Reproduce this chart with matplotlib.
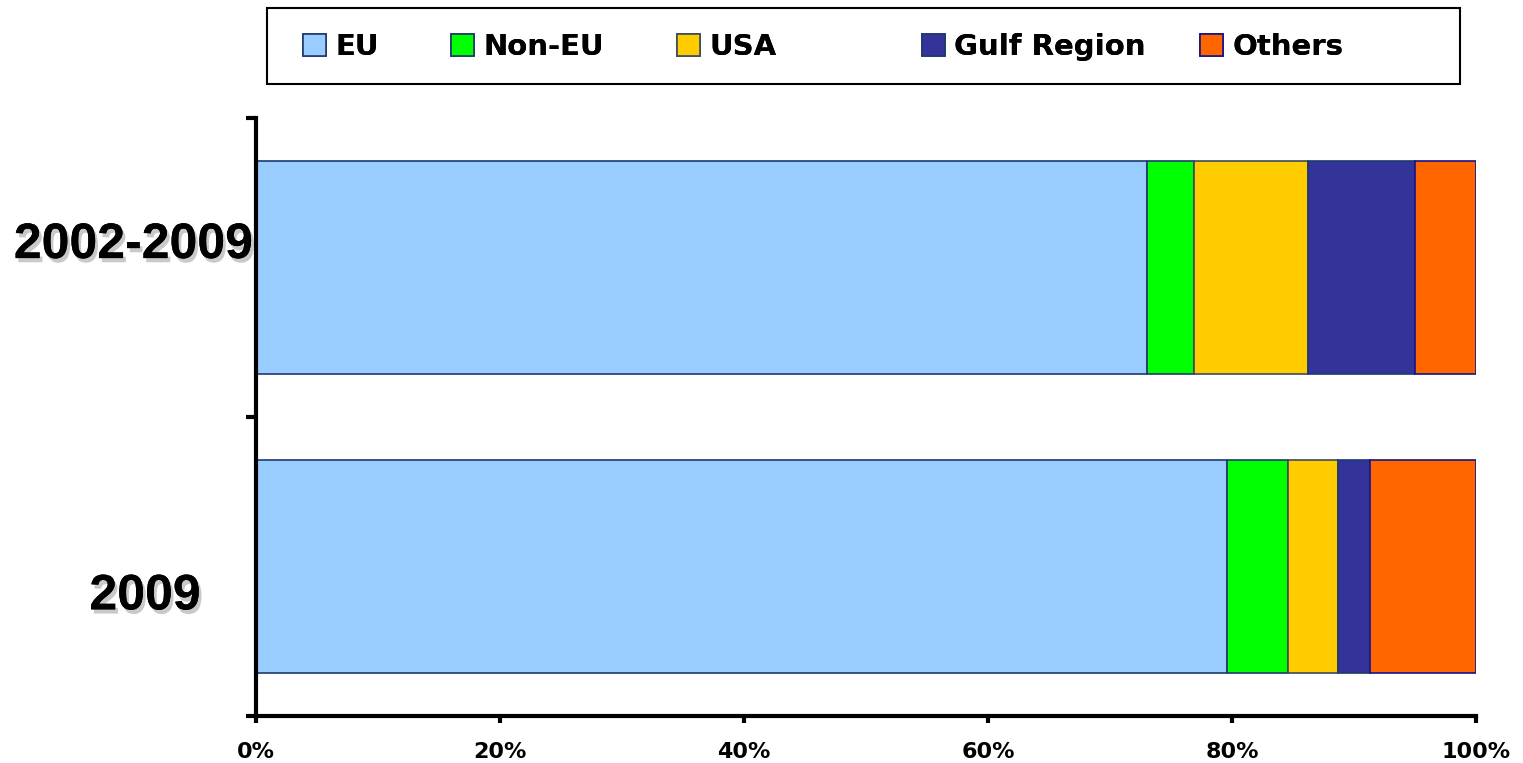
import matplotlib.pyplot as plt
import matplotlib.patheffects as pe
from matplotlib.patches import Rectangle
from matplotlib.ticker import FuncFormatter, FixedLocator

# share of exports by destination, percent
categories = ["2009", "2002-2009"]
regions = ["EU", "Non-EU", "USA", "Gulf Region", "Others"]
eu = [79.6, 73.0]
non_eu = [5.0, 3.9]
usa = [4.1, 9.3]
gulf = [2.6, 8.8]
others = [8.7, 5.0]

colors = ["#99CCFF", "#00FF00", "#FFCC00", "#333399", "#FF6600"]
edges = ["#1F3A6E", "#1F3A6E", "#3A4A5E", "#1F3A6E", "#14148C"]

W, H = 1523, 763
fig = plt.figure(figsize=(W / 100, H / 100), dpi=100)
ax = fig.add_axes([256 / W, 1 - 716 / H, 1220 / W, 598 / H])

ypos = list(range(len(categories)))
left = [0.0] * len(categories)
bars = []
for name, vals, c, ec in zip(regions, [eu, non_eu, usa, gulf, others], colors, edges):
    b = ax.barh(ypos, vals, left=left, height=0.715, color=c, edgecolor=ec,
                linewidth=1.2, label=name)
    bars.append(b)
    left = [a + b for a, b in zip(left, vals)]

ax.set_xlim(0, 100)
ax.set_ylim(-0.5, len(categories) - 0.5)

for side in ("top", "right"):
    ax.spines[side].set_visible(False)
for side in ("left", "bottom"):
    ax.spines[side].set_linewidth(3)

ax.xaxis.set_major_locator(FixedLocator([0, 20, 40, 60, 80, 100]))
ax.xaxis.set_major_formatter(FuncFormatter(lambda v, p: f"{v:.0f}%"))
ax.tick_params(axis="x", direction="out", length=5, width=3, pad=14)
for lab in ax.get_xticklabels():
    lab.set_fontfamily("DejaVu Sans")
    lab.set_fontweight("bold")
    lab.set_fontsize(16)

# boundary ticks between categories, labels drawn separately
ax.yaxis.set_major_locator(FixedLocator([-0.5, 0.5, 1.5]))
ax.set_yticklabels([])
ax.tick_params(axis="y", direction="out", length=7, width=3)

shadow = [pe.withSimplePatchShadow(offset=(2, -3), shadow_rgbFace="#888888", alpha=0.45),
          pe.Normal()]
label_x = [-0.091, -0.1005]
label_dy = [-0.100, 0.075]
for y, cat, lx, dy in zip(ypos, categories, label_x, label_dy):
    ax.text(lx, y + dy, cat, transform=ax.get_yaxis_transform(), ha="center",
            va="center", fontsize=36, fontweight="bold", family="Liberation Sans",
            path_effects=shadow, clip_on=False)

# one legend per entry so each sits at its own spot in the box
legend_x = [303, 451, 677, 922, 1200]
for b, name, lx in zip(bars, regions, legend_x):
    leg = fig.legend([b], [name], loc="center left",
                     bbox_to_anchor=(lx / W, 1 - 47 / H), frameon=False,
                     borderpad=0, borderaxespad=0, handlelength=0.78,
                     handleheight=0.78, handletextpad=0.32,
                     prop={"family": "DejaVu Sans", "weight": "bold", "size": 21})
    fig.add_artist(leg)

fig.patches.append(Rectangle((267 / W, 1 - 84 / H), (1460 - 267) / W, 76 / H,
                             transform=fig.transFigure, fill=False,
                             edgecolor="black", linewidth=1.5))

fig.savefig("out.png", dpi=100)
